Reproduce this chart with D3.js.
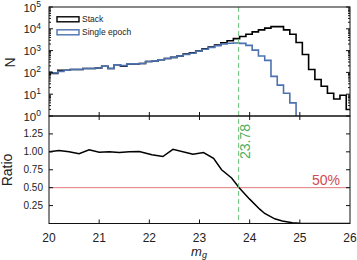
<!DOCTYPE html>
<html>
<head>
<meta charset="utf-8">
<script src="https://cdn.jsdelivr.net/npm/d3@7"></script>
<style>
  html, body { margin: 0; padding: 0; background: #fff; }
  svg { display: block; }
  text { font-family: "Liberation Sans", Arial, Helvetica, sans-serif; }
</style>
</head>
<body>
<svg id="chart" width="357" height="260"></svg>
<script>
// ---- Data ----
const binStart = 19.925;
const binWidth = 0.125;
const singleEpoch = [100, 95, 112, 126, 135, 135, 151, 151, 158, 190, 151, 224, 204, 245, 245, 257,
  316, 339, 380, 437, 490, 562, 661, 759, 933, 1148, 1380, 1660, 1995, 2188, 2239, 2138,
  1738, 1047, 562, 355, 66, 26, 11, 4];
const stack = [100, 89, 126, 126, 135, 135, 151, 151, 158, 190, 151, 224, 190, 245, 245, 257,
  316, 339, 380, 437, 490, 562, 692, 794, 955, 1202, 1445, 1778, 2291, 2818, 3548, 4467,
  5623, 7244, 8913, 10715, 12589, 12589, 8913, 5623, 2344, 661, 135, 47, 23, 11, 6, 9, 2];
const ratioMag = [20.0, 20.2, 20.4, 20.6, 20.8, 21.0, 21.2, 21.4, 21.6, 21.8, 22.05, 22.27, 22.47,
  22.87, 23.08, 23.28, 23.44, 23.64, 23.79, 24.0, 24.2, 24.3, 24.5, 24.65, 24.85, 25.0, 25.2,
  25.4, 25.6, 25.8, 26.0];
const ratioVal = [1.00, 1.02, 1.00, 0.975, 1.03, 0.995, 1.00, 0.99, 1.00, 1.005, 0.96, 0.935, 1.035,
  0.965, 0.99, 0.91, 0.75, 0.635, 0.5, 0.34, 0.2, 0.14, 0.065, 0.035, 0.01, 0.003, 0,
  0, 0, 0, 0];
const xTicks = [20, 21, 22, 23, 24, 25, 26];
const logMajor = [1, 10, 100, 1000, 10000, 100000];
const ratioTicks = [0.25, 0.5, 0.75, 1.0, 1.25];
const cutMag = 23.78;
const cutLabel = "23.78";
const halfLevel = 0.5;
const halfLabel = "50%";
const legendLabels = ["Stack", "Single epoch"];

// ---- Layout ----
const L = 49, R = 350, T1 = 7, B1 = 116, T2 = 116, B2 = 223.5;
const cBlack = "#000", cBlue = "#4c72b0", cGreen = "#6cc07a", cGreenText = "#4fae5f",
      cRed = "#e0787c", cRedText = "#d04a50";

const svg = d3.select("#chart");
const x = d3.scaleLinear().domain([20, 26]).range([L, R]);
const yN = d3.scaleLog().domain([1, 1e5]).range([B1, T1]);
const yR = d3.scaleLinear().domain([0, 1.5]).range([B2, T2]);

svg.append("defs").append("clipPath").attr("id", "clipTop")
  .append("rect").attr("x", L).attr("y", T1).attr("width", R - L).attr("height", B1 - T1);
svg.append("defs").append("clipPath").attr("id", "clipBot")
  .append("rect").attr("x", L).attr("y", T2).attr("width", R - L).attr("height", B2 - T2);

// ---- Histograms ----
function stepPoints(arr) {
  const pts = arr.map((v, i) => [binStart + i * binWidth, v]);
  pts.push([binStart + arr.length * binWidth, arr[arr.length - 1]]);
  return pts;
}
const stepLine = d3.line().x(d => x(d[0])).y(d => yN(Math.max(1, d[1]))).curve(d3.curveStepAfter);
const gTop = svg.append("g").attr("clip-path", "url(#clipTop)");
gTop.append("path").attr("d", stepLine(stepPoints(stack)))
  .attr("fill", "none").attr("stroke", cBlack).attr("stroke-width", 1.6);
let bd = stepLine(stepPoints(singleEpoch));
bd += "L" + x(binStart + singleEpoch.length * binWidth) + "," + yN(1);
gTop.append("path").attr("d", bd)
  .attr("fill", "none").attr("stroke", cBlue).attr("stroke-width", 1.6);

// ---- Ratio ----
const gBot = svg.append("g").attr("clip-path", "url(#clipBot)");
gBot.append("line").attr("x1", L).attr("x2", R).attr("y1", yR(halfLevel)).attr("y2", yR(halfLevel))
  .attr("stroke", cRed).attr("stroke-width", 1);
gBot.append("path")
  .attr("d", d3.line().x((d, i) => x(ratioMag[i])).y(d => yR(d))(ratioVal))
  .attr("fill", "none").attr("stroke", cBlack).attr("stroke-width", 1.5);

// ---- Cut line ----
svg.append("line").attr("x1", x(cutMag)).attr("x2", x(cutMag)).attr("y1", T1).attr("y2", B2)
  .attr("stroke", cGreen).attr("stroke-width", 1).attr("stroke-dasharray", "5,3");

// ---- Frames ----
[[T1, B1], [T2, B2]].forEach(([t, b]) => {
  svg.append("rect").attr("x", L).attr("y", t).attr("width", R - L).attr("height", b - t)
    .attr("fill", "none").attr("stroke", "#111").attr("stroke-width", 1);
});

// ---- Ticks ----
const tk = svg.append("g").attr("stroke", "#111").attr("stroke-width", 1);
xTicks.slice(1, -1).forEach(v => {
  tk.append("line").attr("x1", x(v)).attr("x2", x(v)).attr("y1", B1).attr("y2", B1 - 4);
  tk.append("line").attr("x1", x(v)).attr("x2", x(v)).attr("y1", T2).attr("y2", T2 + 4);
  tk.append("line").attr("x1", x(v)).attr("x2", x(v)).attr("y1", B2).attr("y2", B2 - 4);
});
yN.ticks().forEach(v => {
  const major = logMajor.includes(v);
  const len = major ? 4 : 2;
  const yy = yN(v);
  tk.append("line").attr("x1", L).attr("x2", L + len).attr("y1", yy).attr("y2", yy);
  tk.append("line").attr("x1", R).attr("x2", R - len).attr("y1", yy).attr("y2", yy);
});
ratioTicks.forEach(v => {
  tk.append("line").attr("x1", L).attr("x2", L + 4).attr("y1", yR(v)).attr("y2", yR(v));
  tk.append("line").attr("x1", R).attr("x2", R - 4).attr("y1", yR(v)).attr("y2", yR(v));
});

// ---- Tick labels ----
logMajor.forEach(v => {
  const e = Math.round(Math.log10(v));
  const t = svg.append("text").attr("x", 41).attr("y", yN(v) + 4.5)
    .attr("text-anchor", "end").attr("font-size", 11.5).attr("fill", "#222");
  t.append("tspan").text("10");
  t.append("tspan").attr("dy", -4.5).attr("font-size", 8.5).text(e);
});
ratioTicks.forEach(v => {
  svg.append("text").attr("x", 43).attr("y", yR(v) + 3.5).attr("text-anchor", "end")
    .attr("font-size", 10).attr("fill", "#222").text(v.toFixed(2));
});
xTicks.forEach(v => {
  svg.append("text").attr("x", x(v)).attr("y", 241.5).attr("text-anchor", "middle")
    .attr("font-size", 12).attr("fill", "#222").text(v);
});

// ---- Axis titles ----
svg.append("text").attr("transform", `translate(15,62.5) rotate(-90)`).attr("text-anchor", "middle")
  .attr("font-size", 14).attr("fill", "#222").text("N");
svg.append("text").attr("transform", `translate(12,170) rotate(-90)`).attr("text-anchor", "middle")
  .attr("font-size", 14).attr("fill", "#222").text("Ratio");
const xl = svg.append("text").attr("x", 199).attr("y", 255.5).attr("text-anchor", "middle")
  .attr("font-family", "'Liberation Serif', 'DejaVu Serif', serif").attr("font-style", "italic")
  .attr("font-size", 13).attr("fill", "#222");
xl.append("tspan").text("m");
xl.append("tspan").attr("dy", 2.5).attr("font-size", 9).text("g");

// ---- Annotations ----
svg.append("text").attr("transform", `translate(${x(cutMag) + 11},141.5) rotate(-90)`)
  .attr("text-anchor", "middle").attr("font-size", 14).attr("fill", cGreenText).text(cutLabel);
svg.append("text").attr("x", 340).attr("y", yR(halfLevel) - 3).attr("text-anchor", "end")
  .attr("font-size", 14).attr("fill", cRedText).text(halfLabel);

// ---- Legend ----
const lg = svg.append("g");
[[cBlack, 19.3], [cBlue, 32.3]].forEach(([c, cy], i) => {
  lg.append("rect").attr("x", 57).attr("y", cy - 2.5).attr("width", 22).attr("height", 5)
    .attr("fill", "none").attr("stroke", c).attr("stroke-width", 1.4);
  lg.append("text").attr("x", 82).attr("y", cy + 3).attr("font-size", 8.5).attr("fill", "#222")
    .text(legendLabels[i]);
});
</script>
</body>
</html>
